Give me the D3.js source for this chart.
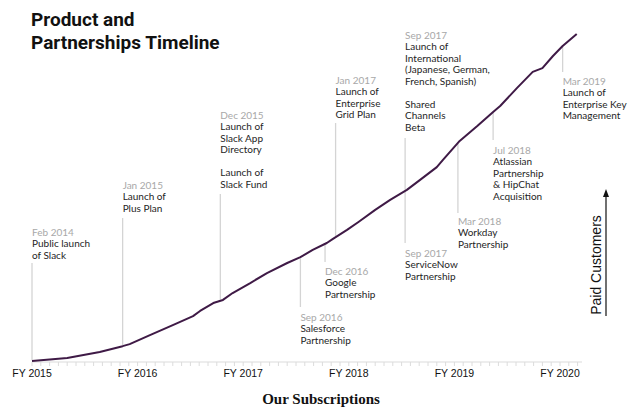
<!DOCTYPE html>
<html>
<head>
<meta charset="utf-8">
<script src="https://cdn.jsdelivr.net/npm/d3@7"></script>
<style>
  html, body { margin: 0; padding: 0; background: #fff; }
  svg { display: block; }
</style>
</head>
<body>
<svg id="chart" width="640" height="420"></svg>
<script>
// ---- data ----
// months since Feb 2014 (start of FY 2015)
const months = [0, 4.0, 7.7, 10.3, 11.1, 13.4, 16.0, 18.3, 19.1, 20.6, 21.7, 22.8, 24.8, 26.7, 29.0, 30.5, 31.9, 33.5, 34.2, 35.8, 37.1, 39.0, 40.7, 42.6, 44.1, 46.0, 46.7, 48.6, 50.6, 52.4, 53.2, 55.1, 56.9, 58.0, 59.2, 60.3, 61.9];
// paid customers (thousands, estimated)
const customers = [0, 0.9, 2.6, 4.3, 4.9, 7.5, 10.4, 13.0, 14.5, 16.8, 17.7, 19.7, 22.6, 25.5, 28.4, 30.1, 32.2, 34.2, 35.4, 38.0, 40.3, 43.8, 46.7, 49.6, 52.5, 56.2, 58.3, 63.8, 68.1, 72.2, 73.9, 79.1, 83.8, 84.9, 88.4, 91.3, 94.8];

const tickLabels = ["FY 2015", "FY 2016", "FY 2017", "FY 2018", "FY 2019", "FY 2020"];
const tickMonths = [0, 12, 24, 36, 48, 60];

const annDates = ["Feb 2014", "Jan 2015", "Dec 2015", "Sep 2016", "Dec 2016", "Jan 2017", "Sep 2017", "Sep 2017", "Mar 2018", "Jul 2018", "Mar 2019"];
const annMonths = [0, 10.3, 21.4, 30.5, 33.3, 34.5, 42.4, 42.4, 48.4, 52.4, 60.3];
const annTexts = [
  ["Public launch", "of Slack"],
  ["Launch of", "Plus Plan"],
  ["Launch of", "Slack App", "Directory", "", "Launch of", "Slack Fund"],
  ["Salesforce", "Partnership"],
  ["Google", "Partnership"],
  ["Launch of", "Enterprise", "Grid Plan"],
  ["Launch of", "International", "(Japanese, German,", "French, Spanish)", "", "Shared", "Channels", "Beta"],
  ["ServiceNow", "Partnership"],
  ["Workday", "Partnership"],
  ["Atlassian", "Partnership", "& HipChat", "Acquisition"],
  ["Launch of", "Enterprise Key", "Management"]
];

// ---- layout (positions/styles only) ----
const annLayout = [
  {side: "above", textY: 232, lineEnd: 263},
  {side: "above", textY: 185, lineEnd: 218},
  {side: "above", textY: 115, lineEnd: 194},
  {side: "below", textY: 317, lineEnd: 307},
  {side: "below", textY: 271, lineEnd: 262},
  {side: "above", textY: 80,  lineEnd: 123},
  {side: "above", textY: 35,  lineEnd: 138},
  {side: "below", textY: 253, lineEnd: 243},
  {side: "below", textY: 221, lineEnd: 213},
  {side: "below", textY: 150, lineEnd: 140},
  {side: "below", textY: 81,  lineEnd: 72}
];

const svg = d3.select("#chart");
const lineH = 11.5;
const annFont = "Lato, 'Noto Sans', sans-serif";

const x = d3.scaleLinear().domain([0, 60]).range([32, 560]);
const y = d3.scaleLinear().domain([0, 100]).range([361, 16]);
const axisY = 362;

const pts = months.map((m, i) => [m, customers[i]]);
const valueAt = m => {
  const i = d3.bisector(d => d[0]).left(pts, m);
  if (i <= 0) return pts[0][1];
  if (i >= pts.length) return pts[pts.length - 1][1];
  const a = pts[i - 1], b = pts[i];
  const t = (m - a[0]) / (b[0] - a[0]);
  return a[1] + t * (b[1] - a[1]);
};

// Title
const title = svg.append("text")
  .attr("font-family", "Roboto, 'Noto Sans', sans-serif")
  .attr("font-weight", 700).attr("font-size", 19).attr("fill", "#111");
title.append("tspan").attr("x", 31).attr("y", 26).text("Product and");
title.append("tspan").attr("x", 31).attr("y", 49).text("Partnerships Timeline");

// Axis
const axisG = svg.append("g").attr("transform", `translate(0,${axisY})`);
const minorTicks = d3.range(0, 63, 1);
axisG.selectAll("line.minor").data(minorTicks).join("line")
  .attr("class", "minor")
  .attr("x1", d => x(d)).attr("x2", d => x(d))
  .attr("y1", 0).attr("y2", 4)
  .attr("stroke", "#dcdcdc").attr("stroke-width", 1);
axisG.append("line")
  .attr("x1", x(0)).attr("x2", x(62.5))
  .attr("y1", 0).attr("y2", 0)
  .attr("stroke", "#dcdcdc").attr("stroke-width", 1.2);
axisG.selectAll("text.tick").data(tickMonths).join("text")
  .attr("class", "tick")
  .attr("x", d => x(d)).attr("y", 15)
  .attr("text-anchor", "middle")
  .attr("font-family", "'Liberation Sans', Arial, sans-serif")
  .attr("font-size", 10.5).attr("fill", "#111")
  .text((d, i) => tickLabels[i]);

// Annotation lines and labels
annMonths.forEach((m, i) => {
  const L = annLayout[i];
  const xc = x(m);
  const yc = y(valueAt(m));
  svg.append("line")
    .attr("x1", xc).attr("x2", xc)
    .attr("y1", L.side === "above" ? L.lineEnd : yc + 1)
    .attr("y2", L.side === "above" ? yc - 1 : L.lineEnd)
    .attr("stroke", "#d4d4d4").attr("stroke-width", 1.3);
  const t = svg.append("text")
    .attr("font-family", annFont).attr("font-size", 10);
  t.append("tspan").attr("x", xc).attr("y", L.textY + 3.5)
    .attr("fill", "#a8a8a8").text(annDates[i]);
  annTexts[i].forEach((s, j) => {
    t.append("tspan").attr("x", xc).attr("y", L.textY + 3.5 + (j + 1) * lineH)
      .attr("fill", "#1e1e1e").text(s);
  });
});

// Curve
const line = d3.line().x(d => x(d[0])).y(d => y(d[1]));
svg.append("path")
  .datum(pts)
  .attr("d", line)
  .attr("fill", "none")
  .attr("stroke", "#3f1a46")
  .attr("stroke-width", 2)
  .attr("stroke-linejoin", "round");

// Paid customers arrow
svg.append("line")
  .attr("x1", 606).attr("x2", 606).attr("y1", 316).attr("y2", 195)
  .attr("stroke", "#111").attr("stroke-width", 1.2);
svg.append("path")
  .attr("d", "M603,197 L606,189 L609,197 Z")
  .attr("fill", "#111");
svg.append("text")
  .attr("transform", "translate(601,265) rotate(-90)")
  .attr("text-anchor", "middle")
  .attr("font-family", "'Liberation Sans', Arial, sans-serif")
  .attr("font-size", 14).attr("fill", "#111")
  .text("Paid Customers");

// Bottom title
svg.append("text")
  .attr("x", 321).attr("y", 404)
  .attr("text-anchor", "middle")
  .attr("font-family", "'Liberation Serif', 'Times New Roman', serif")
  .attr("font-weight", 700).attr("font-size", 15).attr("fill", "#111")
  .text("Our Subscriptions");
</script>
</body>
</html>
